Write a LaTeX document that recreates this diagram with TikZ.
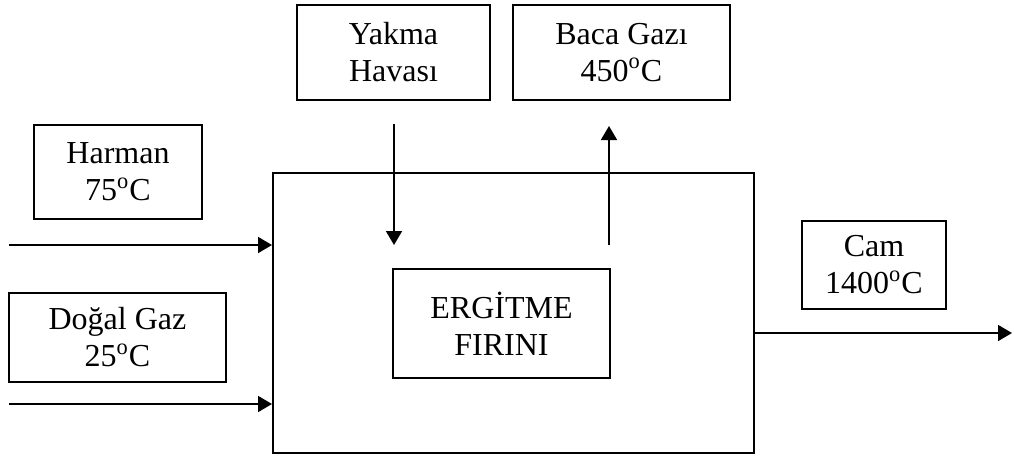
\documentclass[tikz,border=0pt]{standalone}
\usepackage{fontspec}
\setmainfont{Liberation Serif}
\usetikzlibrary{positioning,arrows.meta,calc}

\begin{document}
\begin{tikzpicture}[x=0.5pt, y=-0.5pt, every node/.style={font=\fontsize{16}{18.5}\selectfont}]
  \tikzset{
    kutu/.style={draw, line width=1pt, align=center, inner sep=0pt},
    akis/.style={-{Triangle[length=7pt, width=8pt]}, line width=0.9pt}
  }
  \useasboundingbox (0,0) rectangle (1014,456);

  % kutular
  \node[kutu, minimum width=96.5pt, minimum height=47.5pt] (yakma) at (393.5,52.5) {Yakma\\Havası};
  \node[kutu, minimum width=108.5pt, minimum height=47.5pt] (baca) at (621.5,52.5) {Baca Gazı\\450\textsuperscript{o}C};
  \node[kutu, minimum width=84pt, minimum height=47pt] (harman) at (118,172) {Harman\\75\textsuperscript{o}C};
  \node[kutu, minimum width=108.5pt, minimum height=44.5pt] (dogal) at (117.5,337.5) {Doğal Gaz\\25\textsuperscript{o}C};
  \node[kutu, minimum width=240.5pt, minimum height=140pt] (firin) at (513.5,313) {};
  \node[kutu, minimum width=108.5pt, minimum height=54.5pt] (ergitme) at (501.5,323.5) {ERGİTME\\FIRINI};
  \node[kutu, minimum width=72pt, minimum height=44pt] (cam) at (874,265) {Cam\\1400\textsuperscript{o}C};

  % akislar
  \coordinate (harmanGir) at (9,245);
  \coordinate (dogalGir) at (9,404);
  \coordinate (yakmaUst) at (394,124);
  \coordinate (yakmaAlt) at (394,245);
  \coordinate (bacaAlt) at (609,245);
  \coordinate (bacaUst) at (609,126);
  \coordinate (camCik) at (1012,333);

  \draw[akis] (harmanGir) -- (harmanGir -| firin.west);
  \draw[akis] (dogalGir) -- (dogalGir -| firin.west);
  \draw[akis] (yakmaUst) -- (yakmaAlt);
  \draw[akis] (bacaAlt) -- (bacaUst);
  \draw[akis] (camCik -| firin.east) -- (camCik);
\end{tikzpicture}
\end{document}
